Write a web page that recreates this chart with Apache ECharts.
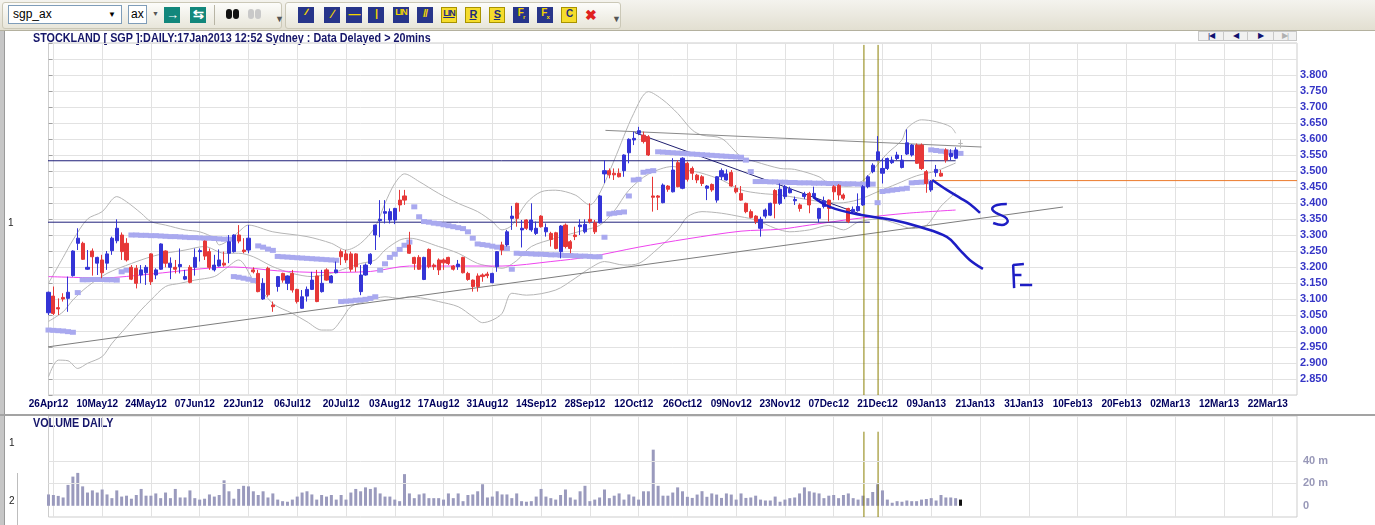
<!DOCTYPE html>
<html>
<head>
<meta charset="utf-8">
<title>STOCKLAND SGP daily</title>
<script src="https://cdn.jsdelivr.net/npm/echarts@6/dist/echarts.min.js"></script>
<style>
html, body { margin:0; padding:0; width:1375px; height:525px; overflow:hidden; background:#fff; font-family:"Liberation Sans", Arial, sans-serif; }
#chart { position:absolute; left:0; top:0; width:1375px; height:525px; }
#toolbar { position:absolute; left:0; top:0; width:1375px; height:30px; background:linear-gradient(#f4f3ee,#e2dfd1); border-bottom:1px solid #b4b19f; z-index:3; }
.band { position:absolute; top:2px; height:25px; border:1px solid #cbc8b7; border-radius:3px; background:linear-gradient(#fcfcfa,#e8e6da); }
.combo { position:absolute; top:5px; height:19px; box-sizing:border-box; background:#fff; border:1px solid #7f9db9; font-size:12px; line-height:17px; padding-left:4px; color:#000; }
.drop { position:absolute; right:5px; top:0; font-size:8px; }
.btn { position:absolute; top:7px; width:16px; height:16px; text-align:center; line-height:16px; font:bold 9px "Liberation Sans", sans-serif; letter-spacing:-1px; }
.navy { background:#27358a; color:#f3d500; }
.yel { background:#f5dc2c; color:#1f2c7a; box-sizing:border-box; border:1px solid #a89300; text-decoration:underline; }
.teal { background:#12877c; color:#fff; font-size:13px; }
.sep { position:absolute; top:5px; width:1px; height:20px; background:#b8b5a5; }
.grip { position:absolute; top:14px; font-size:9px; color:#555; }
.eye { position:absolute; top:9px; width:6px; height:10px; border-radius:3px; background:#111; }
.eye.off { background:#c9c9c9; }
#leftbar { position:absolute; left:0; top:30px; width:4px; height:495px; background:#c6c6c6; border-right:1px solid #9a9a9a; }
#sepbar { position:absolute; left:0; top:414px; width:1375px; height:2px; background:#a3a3a3; }
#rowline { position:absolute; left:17px; top:473px; width:1px; height:52px; background:#bdbdbd; }
.nav { position:absolute; top:31px; height:10px; box-sizing:border-box; border:1px solid #c8c8c8; background:#f1f1f1; color:#101070; font-size:8px; line-height:8px; text-align:center; letter-spacing:-1px; }
</style>
</head>
<body>
<div id="chart"></div>
<div id="toolbar">
  <div class="band" style="left:2px;width:278px"></div>
  <div class="band" style="left:285px;width:334px"></div>
  <div class="combo" style="left:8px;width:114px">sgp_ax<span class="drop">&#9660;</span></div>
  <div class="combo" style="left:128px;width:19px;padding-left:2px">ax</div>
  <div class="grip" style="left:152px;top:10px;font-size:7px">&#9660;</div>
  <div class="btn teal" style="left:164px">&#8594;</div>
  <div class="btn teal" style="left:190px">&#8646;</div>
  <div class="sep" style="left:214px"></div>
  <div class="eye" style="left:226px"></div><div class="eye" style="left:233px"></div>
  <div class="eye off" style="left:248px"></div><div class="eye off" style="left:255px"></div>
  <div class="grip" style="left:275px">&#9660;</div>
  <div class="btn navy" style="left:298px">&#8725;&#8725;</div>
  <div class="btn navy" style="left:324px;font-size:12px">&#8725;</div>
  <div class="btn navy" style="left:346px;font-size:12px">&#8212;</div>
  <div class="btn navy" style="left:368px;font-size:11px">|</div>
  <div class="btn navy" style="left:393px">LIN</div>
  <div class="btn navy" style="left:417px;font-size:11px">//</div>
  <div class="btn yel" style="left:441px">LIN</div>
  <div class="btn yel" style="left:465px;font-size:11px">R</div>
  <div class="btn yel" style="left:489px;font-size:11px">S</div>
  <div class="btn navy" style="left:513px;font-size:10px">F<sub style="font-size:6px">r</sub></div>
  <div class="btn navy" style="left:537px;font-size:10px">F<sub style="font-size:6px">x</sub></div>
  <div class="btn yel" style="left:561px;font-size:10px;text-decoration:none">C</div>
  <div class="btn" style="left:582px;color:#e02020;font-size:14px">&#10006;</div>
  <div class="grip" style="left:612px">&#9660;</div>
</div>
<div id="leftbar"></div>
<div id="sepbar"></div>
<div id="rowline"></div>
<div class="nav" style="left:1198px;width:26px">|&#9664;</div>
<div class="nav" style="left:1223px;width:25px">&#9664;</div>
<div class="nav" style="left:1247px;width:27px">&#9654;</div>
<div class="nav" style="left:1273px;width:24px;color:#b0b0b0">&#9654;|</div>
<script>
// tick labels on the date axis, one every 10 slots
var xTickLabels = ['26Apr12', '10May12', '24May12', '07Jun12', '22Jun12', '06Jul12',
    '20Jul12', '03Aug12', '17Aug12', '31Aug12', '14Sep12', '28Sep12', '12Oct12',
    '26Oct12', '09Nov12', '23Nov12', '07Dec12', '21Dec12', '09Jan13', '21Jan13',
    '31Jan13', '10Feb13', '20Feb13', '02Mar13', '12Mar13', '22Mar13'];

var openPrices = [
    3.057, 3.109, 3.073, 3.105, 3.102, 3.173, 3.274, 3.274, 3.193, 3.250,
    3.212, 3.222, 3.212, 3.251, 3.282, 3.300, 3.274, 3.199, 3.196, 3.175,
    3.182, 3.241, 3.175, 3.193, 3.250, 3.199, 3.199, 3.201, 3.162, 3.199,
    3.199, 3.248, 3.281, 3.248, 3.191, 3.203, 3.212, 3.243, 3.248, 3.300,
    3.253, 3.253, 3.191, 3.180, 3.100, 3.196, 3.081, 3.139, 3.180, 3.149,
    3.180, 3.130, 3.071, 3.109, 3.130, 3.172, 3.123, 3.191, 3.151, 3.182,
    3.248, 3.241, 3.241, 3.241, 3.123, 3.175, 3.211, 3.300, 3.345, 3.368,
    3.347, 3.347, 3.409, 3.422, 3.269, 3.230, 3.230, 3.161, 3.255, 3.206,
    3.222, 3.222, 3.230, 3.203, 3.201, 3.230, 3.180, 3.159, 3.172, 3.175,
    3.178, 3.151, 3.201, 3.269, 3.269, 3.352, 3.399, 3.316, 3.347, 3.316,
    3.305, 3.359, 3.310, 3.305, 3.307, 3.248, 3.331, 3.279, 3.300, 3.326,
    3.310, 3.349, 3.338, 3.338, 3.491, 3.501, 3.493, 3.493, 3.501, 3.557,
    3.597, 3.618, 3.612, 3.607, 3.422, 3.422, 3.401, 3.453, 3.435, 3.526,
    3.446, 3.524, 3.508, 3.487, 3.482, 3.446, 3.458, 3.409, 3.482, 3.472,
    3.495, 3.446, 3.430, 3.399, 3.373, 3.359, 3.321, 3.359, 3.362, 3.439,
    3.399, 3.420, 3.432, 3.407, 3.394, 3.420, 3.430, 3.420, 3.352, 3.389,
    3.409, 3.451, 3.455, 3.425, 3.383, 3.373, 3.376, 3.394, 3.451, 3.498,
    3.534, 3.493, 3.508, 3.526, 3.539, 3.511, 3.553, 3.550, 3.581, 3.581,
    3.498, 3.441, 3.495, 3.493, 3.566, 3.545, 3.540, 3.586];
var highPrices = [
    3.123, 3.139, 3.102, 3.118, 3.170, 3.252, 3.321, 3.279, 3.253, 3.258,
    3.232, 3.238, 3.250, 3.295, 3.349, 3.308, 3.290, 3.206, 3.206, 3.206,
    3.206, 3.243, 3.196, 3.274, 3.252, 3.230, 3.222, 3.258, 3.191, 3.206,
    3.258, 3.258, 3.283, 3.258, 3.238, 3.255, 3.248, 3.300, 3.302, 3.331,
    3.290, 3.331, 3.199, 3.191, 3.165, 3.201, 3.092, 3.172, 3.182, 3.174,
    3.191, 3.132, 3.128, 3.139, 3.185, 3.191, 3.191, 3.196, 3.175, 3.217,
    3.255, 3.253, 3.248, 3.243, 3.206, 3.211, 3.243, 3.333, 3.409, 3.409,
    3.383, 3.385, 3.441, 3.441, 3.310, 3.232, 3.237, 3.232, 3.258, 3.211,
    3.227, 3.227, 3.232, 3.206, 3.222, 3.232, 3.185, 3.161, 3.180, 3.180,
    3.185, 3.182, 3.250, 3.279, 3.316, 3.391, 3.401, 3.347, 3.349, 3.399,
    3.342, 3.362, 3.336, 3.310, 3.310, 3.331, 3.336, 3.284, 3.326, 3.349,
    3.349, 3.399, 3.347, 3.425, 3.534, 3.508, 3.508, 3.508, 3.552, 3.602,
    3.623, 3.638, 3.623, 3.612, 3.482, 3.425, 3.461, 3.456, 3.540, 3.534,
    3.543, 3.529, 3.514, 3.491, 3.487, 3.456, 3.461, 3.484, 3.508, 3.505,
    3.503, 3.456, 3.453, 3.401, 3.380, 3.362, 3.357, 3.383, 3.401, 3.443,
    3.461, 3.456, 3.451, 3.420, 3.399, 3.435, 3.435, 3.451, 3.385, 3.420,
    3.411, 3.456, 3.459, 3.430, 3.385, 3.389, 3.430, 3.456, 3.487, 3.524,
    3.609, 3.539, 3.542, 3.545, 3.560, 3.550, 3.630, 3.584, 3.586, 3.586,
    3.503, 3.472, 3.519, 3.503, 3.571, 3.568, 3.574, 3.598];
var lowPrices = [
    3.050, 3.050, 3.050, 3.092, 3.060, 3.170, 3.253, 3.222, 3.191, 3.173,
    3.175, 3.165, 3.191, 3.238, 3.274, 3.222, 3.217, 3.159, 3.133, 3.149,
    3.144, 3.144, 3.162, 3.191, 3.199, 3.162, 3.180, 3.180, 3.159, 3.149,
    3.173, 3.217, 3.222, 3.191, 3.186, 3.201, 3.201, 3.212, 3.245, 3.274,
    3.243, 3.243, 3.180, 3.121, 3.097, 3.107, 3.060, 3.123, 3.151, 3.128,
    3.120, 3.086, 3.069, 3.092, 3.128, 3.090, 3.120, 3.157, 3.149, 3.180,
    3.206, 3.213, 3.185, 3.185, 3.112, 3.173, 3.206, 3.253, 3.293, 3.336,
    3.336, 3.334, 3.373, 3.394, 3.241, 3.191, 3.191, 3.159, 3.196, 3.191,
    3.175, 3.191, 3.206, 3.189, 3.191, 3.180, 3.157, 3.123, 3.123, 3.154,
    3.165, 3.149, 3.185, 3.237, 3.264, 3.316, 3.326, 3.261, 3.316, 3.310,
    3.300, 3.323, 3.295, 3.264, 3.255, 3.227, 3.258, 3.243, 3.284, 3.300,
    3.305, 3.336, 3.303, 3.336, 3.462, 3.477, 3.472, 3.480, 3.482, 3.524,
    3.581, 3.612, 3.586, 3.547, 3.373, 3.378, 3.399, 3.435, 3.433, 3.449,
    3.443, 3.467, 3.472, 3.462, 3.453, 3.409, 3.435, 3.401, 3.472, 3.470,
    3.451, 3.430, 3.407, 3.368, 3.352, 3.334, 3.295, 3.352, 3.359, 3.352,
    3.394, 3.412, 3.430, 3.394, 3.373, 3.412, 3.368, 3.415, 3.339, 3.383,
    3.342, 3.409, 3.409, 3.409, 3.337, 3.368, 3.373, 3.391, 3.446, 3.493,
    3.532, 3.461, 3.503, 3.522, 3.534, 3.508, 3.550, 3.545, 3.522, 3.503,
    3.432, 3.435, 3.482, 3.482, 3.526, 3.534, 3.537, 3.571];
var closePrices = [
    3.121, 3.055, 3.069, 3.100, 3.121, 3.250, 3.290, 3.224, 3.199, 3.232,
    3.230, 3.182, 3.241, 3.290, 3.321, 3.248, 3.222, 3.162, 3.149, 3.191,
    3.199, 3.154, 3.191, 3.272, 3.212, 3.212, 3.193, 3.208, 3.170, 3.152,
    3.230, 3.251, 3.234, 3.199, 3.206, 3.222, 3.206, 3.279, 3.300, 3.281,
    3.248, 3.290, 3.185, 3.123, 3.149, 3.113, 3.076, 3.170, 3.159, 3.172,
    3.128, 3.092, 3.107, 3.130, 3.159, 3.092, 3.149, 3.159, 3.172, 3.191,
    3.232, 3.222, 3.193, 3.201, 3.175, 3.206, 3.240, 3.331, 3.349, 3.373,
    3.373, 3.383, 3.394, 3.409, 3.243, 3.211, 3.193, 3.230, 3.201, 3.201,
    3.191, 3.213, 3.211, 3.193, 3.209, 3.182, 3.161, 3.139, 3.139, 3.170,
    3.173, 3.180, 3.248, 3.253, 3.310, 3.359, 3.352, 3.321, 3.321, 3.347,
    3.321, 3.326, 3.323, 3.286, 3.258, 3.328, 3.264, 3.258, 3.295, 3.331,
    3.333, 3.342, 3.310, 3.422, 3.501, 3.488, 3.488, 3.482, 3.550, 3.599,
    3.602, 3.626, 3.592, 3.550, 3.418, 3.418, 3.456, 3.443, 3.503, 3.451,
    3.540, 3.474, 3.493, 3.472, 3.461, 3.453, 3.441, 3.482, 3.501, 3.491,
    3.453, 3.435, 3.409, 3.373, 3.355, 3.342, 3.349, 3.378, 3.399, 3.399,
    3.443, 3.451, 3.443, 3.411, 3.383, 3.428, 3.394, 3.430, 3.383, 3.407,
    3.383, 3.435, 3.425, 3.415, 3.342, 3.380, 3.389, 3.451, 3.482, 3.518,
    3.560, 3.508, 3.539, 3.534, 3.550, 3.534, 3.588, 3.581, 3.524, 3.508,
    3.461, 3.467, 3.505, 3.484, 3.534, 3.555, 3.566, 3.586];

// daily volume, millions of shares
var volumeM = [
    10.1, 9.6, 8.8, 7.4, 18.6, 26, 29.3, 17.3, 11.8, 13.7,
    11.8, 14.5, 10.1, 6.8, 13.7, 8.2, 9, 6.3, 9.6, 15,
    9, 9, 11, 6.8, 11.8, 6.8, 15, 7.4, 7.4, 13.7,
    6.8, 5.5, 6.3, 10.1, 8.2, 9.6, 22.7, 12.9, 6.3, 15,
    17.8, 17.3, 12.9, 9.6, 12.9, 7.4, 11, 5.5, 4.1, 3.6,
    5.5, 8.2, 11.8, 12.9, 10.1, 5.5, 9.6, 8.2, 9.6, 5.5,
    9.6, 5.5, 11.8, 15, 12.9, 16.4, 15, 16.4, 11, 8.2,
    8.2, 5.5, 4.1, 28.2, 11, 6.8, 10.1, 11, 6.8, 6.8,
    6.8, 5.5, 11, 6.8, 11, 4.1, 9.6, 10.1, 12.9, 19.2,
    7.4, 8.2, 12.9, 10.1, 10.1, 6.8, 11, 4.1, 3.6, 4.1,
    8.2, 15, 8.2, 6.8, 5.5, 9.6, 14.5, 7.4, 5.5, 12.9,
    17.8, 4.1, 5.5, 7.4, 14.5, 6.8, 9, 11, 5.5, 10.1,
    8.2, 5.5, 12.9, 12.9, 50, 17.8, 9, 9, 11.8, 16.4,
    12.9, 8, 7, 10, 13, 8, 11, 10, 7, 11,
    10, 5.5, 11, 7, 7.4, 9, 5.5, 4.7, 4.7, 8.2,
    3.6, 5.5, 6.8, 7.4, 11, 16.4, 12.9, 11.8, 11, 6.8,
    9, 9.6, 6.8, 9.6, 11, 6.8, 5.5, 9, 6.8, 12.3,
    19.2, 13.7, 5.5, 2.7, 4.1, 3.6, 4.7, 4.1, 4.1, 5.5,
    6, 6.8, 4.7, 9.6, 7.4, 7.4, 6.8, 5.5];

// parabolic SAR, one dot per bar
var sarValues = [
    3.003, 3.002, 3.001, 3.000, 2.998, 2.996, 3.120, 3.160, 3.160, 3.161,
    3.161, 3.161, 3.160, 3.160, 3.159, 3.185, 3.190, 3.300, 3.300, 3.299,
    3.299, 3.298, 3.298, 3.297, 3.296, 3.295, 3.295, 3.294, 3.293, 3.292,
    3.292, 3.291, 3.290, 3.290, 3.289, 3.288, 3.287, 3.287, 3.170, 3.168,
    3.165, 3.162, 3.158, 3.266, 3.262, 3.256, 3.252, 3.233, 3.232, 3.231,
    3.230, 3.229, 3.228, 3.227, 3.226, 3.225, 3.224, 3.223, 3.222, 3.221,
    3.092, 3.093, 3.094, 3.096, 3.097, 3.099, 3.102, 3.107, 3.190, 3.210,
    3.230, 3.240, 3.255, 3.268, 3.278, 3.388, 3.357, 3.342, 3.340, 3.337,
    3.335, 3.332, 3.329, 3.326, 3.323, 3.320, 3.310, 3.290, 3.272, 3.270,
    3.268, 3.265, 3.262, 3.259, 3.258, 3.193, 3.243, 3.242, 3.242, 3.241,
    3.240, 3.240, 3.239, 3.238, 3.238, 3.237, 3.236, 3.236, 3.235, 3.234,
    3.234, 3.233, 3.232, 3.232, 3.293, 3.366, 3.368, 3.370, 3.372, 3.422,
    3.472, 3.474, 3.496, 3.499, 3.501, 3.560, 3.559, 3.558, 3.557, 3.556,
    3.555, 3.554, 3.553, 3.552, 3.551, 3.550, 3.549, 3.548, 3.547, 3.546,
    3.545, 3.544, 3.543, 3.534, 3.498, 3.467, 3.467, 3.467, 3.466, 3.466,
    3.465, 3.465, 3.464, 3.464, 3.463, 3.463, 3.463, 3.462, 3.462, 3.462,
    3.461, 3.461, 3.461, 3.460, 3.460, 3.460, 3.459, 3.459, 3.459, 3.459,
    3.401, 3.436, 3.438, 3.440, 3.442, 3.444, 3.446, 3.463, 3.464, 3.465,
    3.466, 3.566, 3.564, 3.562, 3.560, 3.558, 3.556, 3.555];

// [bar, price] points
var bandUpper = [[0, 3.149], [3, 3.23], [5, 3.284], [8, 3.35], [11, 3.373], [14, 3.42],
    [16, 3.404], [19, 3.368], [21, 3.342], [24, 3.331], [28, 3.316], [31, 3.31], [34, 3.29],
    [35, 3.269], [37, 3.284], [39, 3.31], [41, 3.331], [46, 3.31], [53, 3.295], [58, 3.274],
    [61, 3.253], [64, 3.274], [67, 3.326], [69, 3.399], [71, 3.461], [73, 3.491], [76, 3.467],
    [80, 3.43], [84, 3.399], [88, 3.373], [91, 3.342], [93, 3.316], [95, 3.33], [98, 3.4],
    [101, 3.435], [104, 3.44], [108, 3.425], [111, 3.394], [113, 3.43], [116, 3.534],
    [120, 3.68], [123, 3.748], [126, 3.722], [129, 3.68], [132, 3.628], [134, 3.612],
    [138, 3.602], [142, 3.545], [145, 3.529], [150, 3.508], [153, 3.505], [158, 3.482],
    [160, 3.461], [164, 3.452], [167, 3.47], [170, 3.52], [172, 3.555], [175, 3.597],
    [176, 3.633], [179, 3.66], [182, 3.654], [185, 3.638], [186, 3.618]];
var bandMiddle = [[0, 3.03], [3, 3.06], [5, 3.097], [8, 3.139], [12, 3.18], [17, 3.211],
    [21, 3.232], [24, 3.243], [28, 3.253], [32, 3.264], [36, 3.243], [39, 3.243], [42, 3.232],
    [46, 3.201], [50, 3.18], [54, 3.17], [58, 3.18], [61, 3.196], [64, 3.211], [67, 3.222],
    [69, 3.253], [72, 3.284], [74, 3.29], [80, 3.264], [84, 3.243], [88, 3.211], [91, 3.201],
    [93, 3.196], [96, 3.22], [99, 3.264], [104, 3.29], [110, 3.316], [113, 3.33], [116, 3.375],
    [119, 3.44], [123, 3.49], [128, 3.514], [131, 3.503], [134, 3.493], [138, 3.472],
    [142, 3.441], [146, 3.43], [150, 3.425], [154, 3.415], [158, 3.405], [162, 3.40],
    [166, 3.41], [170, 3.435], [174, 3.46], [178, 3.485], [182, 3.50], [186, 3.525]];
var bandLower = [[0, 2.857], [2, 2.909], [4, 2.907], [6, 2.883], [8, 2.899], [11, 2.92],
    [13, 2.961], [16, 3.013], [19, 3.066], [21, 3.097], [24, 3.139], [27, 3.149], [30, 3.159],
    [34, 3.17], [36, 3.191], [39, 3.222], [42, 3.159], [46, 3.086], [50, 3.055], [53, 3.029],
    [56, 3.003], [58, 3.003], [60, 3.034], [62, 3.076], [65, 3.092], [69, 3.107], [72, 3.102],
    [74, 3.107], [77, 3.102], [80, 3.092], [84, 3.076], [87, 3.045], [89, 3.026], [91, 3.034],
    [93, 3.055], [95, 3.118], [98, 3.112], [104, 3.128], [108, 3.165], [111, 3.196],
    [114, 3.217], [118, 3.206], [121, 3.211], [125, 3.258], [129, 3.315], [131, 3.357],
    [134, 3.373], [138, 3.368], [142, 3.357], [145, 3.347], [149, 3.321], [152, 3.31],
    [156, 3.316], [160, 3.33], [163, 3.316], [166, 3.34], [170, 3.35], [174, 3.335],
    [177, 3.32], [180, 3.33], [183, 3.39], [186, 3.432]];
var movingAvg = [[0, 3.170], [11, 3.166], [21, 3.178], [31, 3.194], [38, 3.2], [47, 3.188],
    [56, 3.183], [66, 3.186], [74, 3.203], [86, 3.203], [93, 3.203], [103, 3.217], [111, 3.232],
    [121, 3.262], [131, 3.288], [142, 3.312], [150, 3.318], [156, 3.331], [166, 3.352],
    [176, 3.368], [186, 3.378]];

// drawn studies: [bar, price] end points
var supportTrend = [[-0.3, 2.95], [208, 3.3875]];
var topTrend = [[114.2, 3.627], [191.3, 3.575]];
var fallTrend = [[120.2, 3.62], [167, 3.3625]];
var upperLevel = [[-0.3, 3.532], [186, 3.532]];
var lowerLevel = [[-0.3, 3.34], [168.4, 3.34]];
var stopLevel = [[181, 3.47], [256, 3.47]];
var markerBars = [167.2, 170.1];
var penStrokes = [
    [[156.8, 3.419], [160.2, 3.388], [166.4, 3.363], [173.2, 3.347], [178.7, 3.325],
        [184.2, 3.294], [186.9, 3.253], [188.9, 3.222], [191.6, 3.194]],
    [[181.2, 3.472], [184.2, 3.441], [186.9, 3.416], [188.9, 3.397], [191, 3.369]],
    [[196.5, 3.397], [194.5, 3.394], [193.5, 3.381], [194.3, 3.369], [196.1, 3.356],
        [196.7, 3.344], [195.5, 3.331], [193.7, 3.3375]],
    [[200, 3.209], [197.8, 3.206], [198, 3.134]],
    [[198, 3.175], [199.5, 3.175]],
    [[199.2, 3.144], [201.7, 3.144]]
];

var SLOTS = 257;
var GRID_COLOR = '#e2e2e2';
var SANS = '"Liberation Sans", Arial, sans-serif';

function buildCategories() {
    var cats = [];
    for (var i = 0; i < SLOTS; i++) {
        cats.push(String(i));
    }
    return cats;
}

function buildCandles() {
    var rows = [];
    var last = closePrices.length - 1;
    for (var i = 0; i < closePrices.length; i++) {
        var item = { value: [openPrices[i], closePrices[i], lowPrices[i], highPrices[i]] };
        if (i === last) {
            // today's bar, still open
            item.itemStyle = { color: '#b8b8b8', color0: '#b8b8b8', borderColor: '#b8b8b8',
                borderColor0: '#b8b8b8', borderColorDoji: '#b8b8b8' };
        }
        rows.push(item);
    }
    return rows;
}

function buildVolume() {
    var rows = [];
    for (var i = 0; i < volumeM.length; i++) {
        rows.push(i === volumeM.length - 1 ? { value: volumeM[i], itemStyle: { color: '#111' } } : volumeM[i]);
    }
    return rows;
}

function plainLine(name, data, color, width, xAxisIndex, yAxisIndex, z, smooth) {
    return {
        name: name, type: 'line', data: data, xAxisIndex: xAxisIndex, yAxisIndex: yAxisIndex,
        symbol: 'none', smooth: smooth || false, silent: true, z: z,
        lineStyle: { color: color, width: width }
    };
}

// squeezed bold heading, like the terminal's narrow font
function heading(text, left, top) {
    return {
        type: 'text', left: left, top: top, silent: true, scaleX: 0.83, originX: 0,
        style: { text: text, fill: '#16166a', font: 'bold 13px ' + SANS }
    };
}

function getOption() {
    var cats = buildCategories();
    var series = [];

    series.push(plainLine('Upper band', bandUpper, '#b5b5b5', 1, 1, 0, 1, 0.3));
    series.push(plainLine('Mid band', bandMiddle, '#b5b5b5', 1, 1, 0, 1, 0.3));
    series.push(plainLine('Lower band', bandLower, '#b5b5b5', 1, 1, 0, 1, 0.3));
    series.push(plainLine('Moving average', movingAvg, '#ee44ee', 1, 1, 0, 1, 0.3));
    series.push(plainLine('Support', supportTrend, '#7d7d7d', 1, 1, 0, 1));
    series.push(plainLine('Top', topTrend, '#8a8a8a', 1, 1, 0, 1));
    series.push(plainLine('Fall', fallTrend, '#1f1f70', 1, 1, 0, 1));
    series.push(plainLine('Upper level', upperLevel, '#1f1f7a', 1, 1, 0, 1));
    series.push(plainLine('Lower level', lowerLevel, '#1f1f7a', 1, 1, 0, 1));
    series.push(plainLine('Stop', stopLevel, '#ec7a2a', 1, 1, 0, 1));
    markerBars.forEach(function (bar) {
        series.push(plainLine('Marker', [[bar, 3.894], [bar, 2.8]], '#8a7f00', 1, 1, 0, 2));
        series.push(plainLine('Marker vol', [[bar, 66], [bar, -10]], '#8a7f00', 1, 3, 1, 2));
    });

    series.push({
        name: 'SAR', type: 'scatter', data: sarValues, xAxisIndex: 0, yAxisIndex: 0,
        symbol: 'rect', symbolSize: [6, 5], silent: true, z: 2,
        itemStyle: { color: '#a9a9ef', opacity: 1 }
    });
    series.push({
        name: 'SGP', type: 'candlestick', data: buildCandles(), xAxisIndex: 0, yAxisIndex: 0,
        barWidth: 3.6, silent: true, z: 3, clip: false,
        itemStyle: { color: '#3434d6', color0: '#e63838', borderColor: '#3434d6',
            borderColor0: '#e63838', borderColorDoji: '#3434d6', borderWidth: 1 }
    });
    penStrokes.forEach(function (stroke, k) {
        series.push(plainLine('Pen ' + k, stroke, '#1d1dc4', 2.5, 1, 0, 5, k < 3 ? 0.4 : false));
    });

    series.push({
        name: 'Volume', type: 'bar', data: buildVolume(), xAxisIndex: 2, yAxisIndex: 1,
        barWidth: 3, silent: true, z: 2,
        itemStyle: { color: '#9a9abd' },
        markLine: {
            silent: true, symbol: 'none', label: { show: false }, animation: false,
            lineStyle: { color: GRID_COLOR, type: 'solid', width: 1 },
            data: [{ yAxis: 20 }, { yAxis: 40 }]
        }
    });

    var dateSplit = {
        show: true,
        interval: function (index) { return index % 10 === 1; },
        lineStyle: { color: GRID_COLOR, width: 1 }
    };

    return {
        animation: false,
        backgroundColor: '#ffffff',
        grid: [
            { left: 48.5, width: 1248.5, top: 43, height: 352, show: true, borderColor: '#cdcdcd',
                borderWidth: 1, containLabel: false, outerBoundsMode: 'none' },
            { left: 48.5, width: 1248.5, top: 416, height: 101, show: true, borderColor: '#cdcdcd',
                borderWidth: 1, containLabel: false, outerBoundsMode: 'none' }
        ],
        xAxis: [
            {
                type: 'category', gridIndex: 0, data: cats, boundaryGap: false,
                axisLine: { show: false }, axisTick: { show: false },
                axisLabel: {
                    interval: 9, margin: 4, color: '#00005e', fontWeight: 'bold', fontSize: 10,
                    fontFamily: SANS, hideOverlap: false,
                    formatter: function (value, index) {
                        return index % 10 === 0 ? (xTickLabels[index / 10] || '') : '';
                    }
                },
                splitLine: dateSplit
            },
            { type: 'value', gridIndex: 0, min: 0, max: SLOTS - 1, show: false },
            {
                type: 'category', gridIndex: 1, data: cats, boundaryGap: false,
                axisLine: { show: false }, axisTick: { show: false }, axisLabel: { show: false },
                splitLine: dateSplit
            },
            { type: 'value', gridIndex: 1, min: 0, max: SLOTS - 1, show: false }
        ],
        yAxis: [
            {
                type: 'value', gridIndex: 0, position: 'right', min: 2.8, max: 3.9, interval: 0.05,
                axisLine: { show: false },
                axisTick: { show: true, length: 4, lineStyle: { color: '#a0a0a0' } },
                axisLabel: {
                    margin: 3, color: '#3535c6', fontWeight: 'bold', fontSize: 11,
                    fontFamily: SANS,
                    formatter: function (value) {
                        var v = Math.round(value * 1000) / 1000;
                        if (v < 2.84 || v > 3.81) {
                            return '';
                        }
                        return v.toFixed(3);
                    }
                },
                splitLine: { show: true, lineStyle: { color: GRID_COLOR, width: 1 } }
            },
            {
                type: 'value', gridIndex: 1, position: 'right', min: -10, max: 80, interval: 10,
                axisLine: { show: false }, axisTick: { show: false },
                axisLabel: {
                    margin: 6, color: '#9898b8', fontWeight: 'bold', fontSize: 11,
                    fontFamily: SANS,
                    formatter: function (value) {
                        if (value === 0) {
                            return '0';
                        }
                        return (value === 20 || value === 40) ? value + ' m' : '';
                    }
                },
                splitLine: { show: false }
            }
        ],
        graphic: [
            heading('STOCKLAND [ SGP ]:DAILY:17Jan2013 12:52 Sydney : Data Delayed > 20mins', 33, 32),
            heading('VOLUME DAILY', 33, 417),
            { type: 'text', left: 8, top: 218, silent: true,
                style: { text: '1', fill: '#222', font: '10px ' + SANS } },
            { type: 'text', left: 9, top: 438, silent: true,
                style: { text: '1', fill: '#222', font: '10px ' + SANS } },
            { type: 'text', left: 9, top: 496, silent: true,
                style: { text: '2', fill: '#222', font: '10px ' + SANS } }
        ],
        series: series
    };
}

var chart = echarts.init(document.getElementById('chart'), null, { renderer: 'canvas' });
chart.setOption(getOption());
</script>
</body>
</html>
